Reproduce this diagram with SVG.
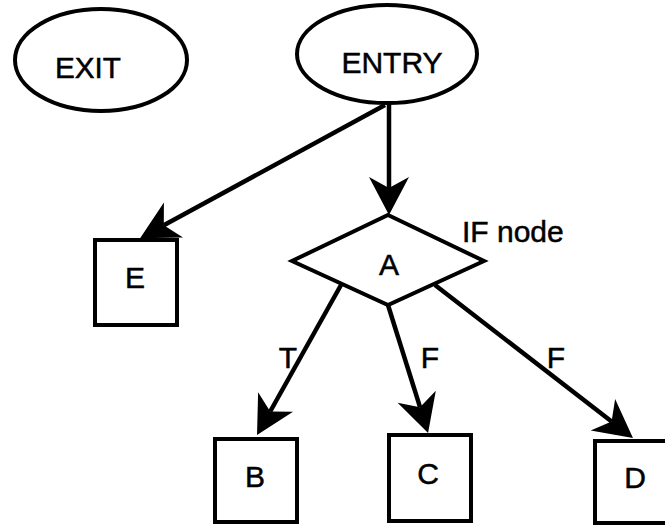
<svg xmlns="http://www.w3.org/2000/svg" width="665" height="525" viewBox="0 0 665 525">
<style>
.shape{fill:#fff;stroke:#000;stroke-width:4}
.edge{fill:none;stroke:#000;stroke-width:4.5}
text{font-family:"Liberation Sans",Arial,sans-serif;font-size:30px;fill:#000;stroke:#000;stroke-width:0.5}
.c{text-anchor:middle}
</style>
<defs>
<marker id="arr" markerUnits="userSpaceOnUse" viewBox="-12 -21 40 42" markerWidth="40" markerHeight="42" refX="0" refY="0" orient="auto" overflow="visible">
<path d="M27,0 L-11,-20 L0,0 L-11,20 Z" fill="#000"/>
</marker>
</defs>
<rect width="665" height="525" fill="#fff"/>
<g id="edges">
<line class="edge" x1="389" y1="104" x2="389" y2="188" marker-end="url(#arr)"/>
<line class="edge" x1="385" y1="105" x2="163.8" y2="225.3" marker-end="url(#arr)"/>
<line class="edge" x1="341" y1="285" x2="270.2" y2="411.5" marker-end="url(#arr)"/>
<line class="edge" x1="388" y1="305" x2="420" y2="407.2" marker-end="url(#arr)"/>
<line class="edge" x1="435" y1="285" x2="611.6" y2="421.5" marker-end="url(#arr)"/>
<text class="c" x="288" y="368">T</text>
<text class="c" x="430" y="368">F</text>
<text class="c" x="556" y="368">F</text>
</g>
<g id="exit">
<ellipse class="shape" cx="101" cy="60" rx="86" ry="51"/>
<text class="c" x="88" y="78" textLength="66" lengthAdjust="spacingAndGlyphs">EXIT</text>
</g>
<g id="entry">
<ellipse class="shape" cx="387" cy="54" rx="90" ry="49"/>
<text class="c" x="392" y="73">ENTRY</text>
</g>
<g id="nodeA">
<polygon class="shape" points="388,215 484,261 388,305 292,261"/>
<text class="c" x="389" y="275">A</text>
<text x="462" y="242">IF node</text>
</g>
<g id="nodeE">
<rect class="shape" x="95" y="240" width="82" height="85"/>
<text class="c" x="135" y="288">E</text>
</g>
<g id="nodeB">
<rect class="shape" x="215" y="439" width="82" height="83"/>
<text class="c" x="255" y="487">B</text>
</g>
<g id="nodeC">
<rect class="shape" x="389" y="435" width="82" height="86"/>
<text class="c" x="428" y="484">C</text>
</g>
<g id="nodeD">
<rect class="shape" x="595" y="441" width="82" height="82"/>
<text class="c" x="635" y="488">D</text>
</g>
</svg>
